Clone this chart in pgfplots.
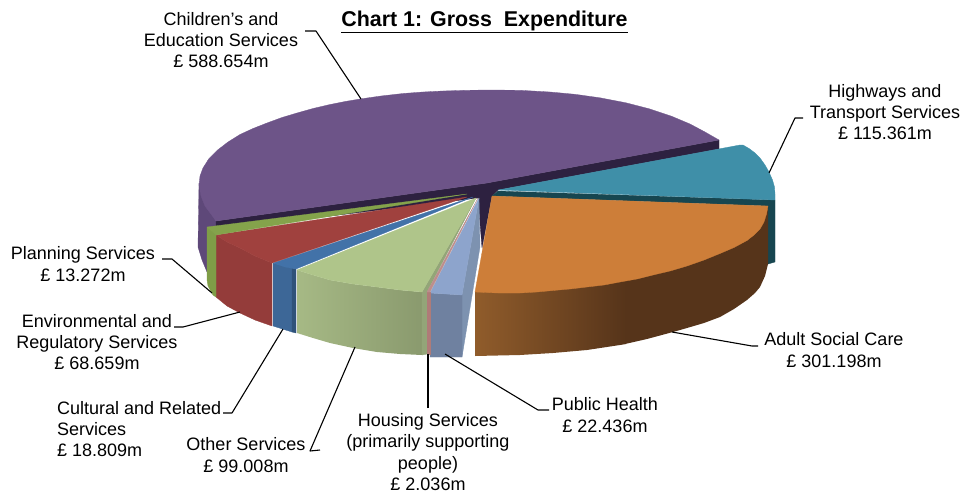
\documentclass[border=0pt]{standalone}
\usepackage{fontspec}
\setmainfont{Liberation Sans}
\usepackage{pgfplots}
\pgfplotsset{compat=1.18}

% slice colours: top faces, front faces, cut faces
\definecolor{purpleTop}{HTML}{6D5488}
\definecolor{purpleSide}{HTML}{5E4879}
\definecolor{purpleCut}{HTML}{2D2140}
\definecolor{tealTop}{HTML}{3F8FA8}
\definecolor{tealCut}{HTML}{174650}
\definecolor{orangeTop}{HTML}{CD7E39}
\definecolor{orangeA}{HTML}{905C2B}
\definecolor{orangeB}{HTML}{56341A}
\definecolor{phTop}{HTML}{8DA4CC}
\definecolor{phFront}{HTML}{6F81A0}
\definecolor{phInner}{HTML}{7D92B0}
\definecolor{houseTop}{HTML}{BC8E8C}
\definecolor{houseFront}{HTML}{AF7B78}
\definecolor{otherTop}{HTML}{AFC58A}
\definecolor{otherA}{HTML}{A6B985}
\definecolor{otherB}{HTML}{8A9A6E}
\definecolor{otherInner}{HTML}{93A578}
\definecolor{cultTop}{HTML}{4272A8}
\definecolor{cultFront}{HTML}{3D6797}
\definecolor{cultInner}{HTML}{2F527A}
\definecolor{envTop}{HTML}{A0413E}
\definecolor{envFront}{HTML}{943C3A}
\definecolor{planTop}{HTML}{84A34B}
\definecolor{planFront}{HTML}{7F9D47}

\newcommand{\lbl}{\fontsize{18}{21.4}\selectfont}

\begin{document}
\begin{tikzpicture}
\begin{axis}[
  scale only axis, width=964pt, height=493pt,
  xmin=0, xmax=964, ymin=0, ymax=493, y dir=reverse,
  axis lines=none, clip=false,
  face/.style={fill=#1, draw=#1, line width=0.3pt, line join=round},
  leader/.style={draw=black, line width=1.1pt, line join=round},
]
% keeps the page as large as the plotting area
\path (axis cs:0,0) rectangle (axis cs:964,493);
% Children's and Education Services: rim, cut faces, top
\addplot[face=purpleSide] coordinates {(199,183)(198,247)(202,260)(207,272)(216,280)(216,221)(205,200)} -- cycle;
\addplot[face=purpleCut] coordinates {(216,221)(487,183)(719,140)(719,149)(498,190)(492,196)(482,248)(478,198)(216,230)} -- cycle;
\addplot[face=purpleTop] coordinates {(216,221)(211,214)(205,206)(201,196)(199,185)(200,176)(203,168)(209,158.5)(217,150.5)(228,142)(240,134.5)(253,128.5)(267,123)(282,117.5)(297,113)(313,108.5)(330,104.5)(345,101.5)(360,99)(381,96)(403,93.5)(423,92)(443,91)(466,90.3)(490,90)(520,90.3)(550,92)(575,94.3)(600,97.8)(626,102.8)(650,109)(671,116)(690,124)(705,132)(719,140)(487,183)} -- cycle;
% Highways and Transport Services
\addplot[face=tealCut] coordinates {(498,191)(775,200)(775,262)(768,264)(768,206)(492,196)} -- cycle;
\addplot[face=tealTop] coordinates {(498,190)(740,145)(743,145)(749,148.5)(755,153)(760,158)(765,165)(769,172)(772.5,180)(774.5,187)(775,194)(775,200)} -- cycle;
% Adult Social Care
\addplot[fill=orangeB, draw=none] coordinates {(625,250)(768,206)(768,264)(765,276)(760,287)(755,293)(747,300)(734,309)(720,317)(704,323)(687,328)(673,332)(647,339)(625,344)} -- cycle;
\addplot[left color=orangeA, right color=orangeB, draw=none] coordinates {(475,292)(626,260)(626,344)(620,345)(587,350)(553,353)(520,355)(475,356)} -- cycle;
\addplot[face=orangeTop] coordinates {(492,196)(768,206)(766.5,214)(764,222)(760,229)(754,235)(747,240.5)(734,247.5)(720,253.5)(704,260)(687,266)(670,271)(653,275)(637,279)(620,282)(604,285)(587,287)(570,289)(553,290.5)(537,292)(520,293)(498,293)(475,292)} -- cycle;
% Public Health
\addplot[face=phInner] coordinates {(479,198)(480,247)(462,357)(462,295)} -- cycle;
\addplot[face=phFront] coordinates {(430,293)(462,295)(462,357)(430,357)} -- cycle;
\addplot[face=phTop] coordinates {(479,198)(462,295)(446,294)(430,293)} -- cycle;
% Other Services
\addplot[left color=otherA, right color=otherB, draw=none] coordinates {(297,270)(313,275)(330,280)(353,284)(377,287)(400,290)(422,292)(422,355)(400,354)(377,352)(353,348)(330,343)(313,338)(297,333)} -- cycle;
\addplot[face=otherInner] coordinates {(476,198)(427,292)(427,354)(422,355)(422,292)} -- cycle;
\addplot[face=otherTop] coordinates {(476,198)(422,292)(400,290)(377,287)(353,284)(330,280)(313,275)(297,270)} -- cycle;
% Housing Services
\addplot[face=houseFront] coordinates {(427,292)(430,292)(430,354)(427,354)} -- cycle;
\addplot[face=houseTop] coordinates {(478,198)(430,292)(427,292)} -- cycle;
% Cultural and Related Services
\addplot[face=cultFront] coordinates {(273,263)(292,268)(292,332)(273,326)} -- cycle;
\addplot[face=cultInner] coordinates {(292,268)(296,269)(296,333)(292,332)} -- cycle;
\addplot[face=cultTop] coordinates {(473,197)(296,269)(285,267)(273,263)} -- cycle;
% Environmental and Regulatory Services
\addplot[face=envFront] coordinates {(216,235)(227,242)(240,248)(255,256)(272,263)(272,326)(255,320)(240,313)(227,306)(216,297)} -- cycle;
\addplot[face=envTop] coordinates {(467,197)(272,263)(255,256)(240,248)(227,242)(216,235)} -- cycle;
% Planning Services
\addplot[face=planFront] coordinates {(207,227)(216,235)(216,297)(213,295)(208,286)(207,280)} -- cycle;
\addplot[face=planTop] coordinates {(467,194)(216,235)(207,227)} -- cycle;

% leader lines
\addplot[leader] coordinates {(305,31)(316,31)(361,99)};
\addplot[leader] coordinates {(803,118)(795,118)(769,173)};
\addplot[leader] coordinates {(672,332)(752,346)(758,346)};
\addplot[leader] coordinates {(549,410)(538,410)(445,354)};
\addplot[leader] coordinates {(428,408)(428,354)};
\addplot[leader] coordinates {(320,450)(310,451)(355,347)};
\addplot[leader] coordinates {(223,413)(232,413)(283,329)};
\addplot[leader] coordinates {(174,327)(183,327)(240,312)};
\addplot[leader] coordinates {(162,259)(172,259)(212,293)};

% title and labels
\node[font=\fontsize{21.4}{24}\selectfont\bfseries] at (axis cs:484.5,22) {\underline{Chart 1: Gross\ \ Expenditure}};
\node[align=center, font=\lbl, inner sep=0pt] at (axis cs:221,40) {Children's and\\Education Services\\£ 588.654m};
\node[align=center, font=\lbl, inner sep=0pt] at (axis cs:885,112) {Highways and\\Transport Services\\£ 115.361m};
\node[align=center, font=\lbl, inner sep=0pt] at (axis cs:834,350) {Adult Social Care\\£ 301.198m};
\node[align=center, font=\lbl, inner sep=0pt] at (axis cs:605,415) {Public Health\\£ 22.436m};
\node[align=center, font=\lbl, inner sep=0pt] at (axis cs:428,452) {Housing Services\\(primarily supporting\\people)\\£ 2.036m};
\node[align=center, font=\lbl, inner sep=0pt] at (axis cs:246,455) {Other Services\\£ 99.008m};
\node[align=left, anchor=west, font=\lbl, inner sep=0pt] at (axis cs:57,429) {Cultural and Related\\Services\\£ 18.809m};
\node[align=center, font=\lbl, inner sep=0pt] at (axis cs:97,342) {Environmental and\\Regulatory Services\\£ 68.659m};
\node[align=center, font=\lbl, inner sep=0pt] at (axis cs:83,264) {Planning Services\\£ 13.272m};
\end{axis}
\end{tikzpicture}
\end{document}
